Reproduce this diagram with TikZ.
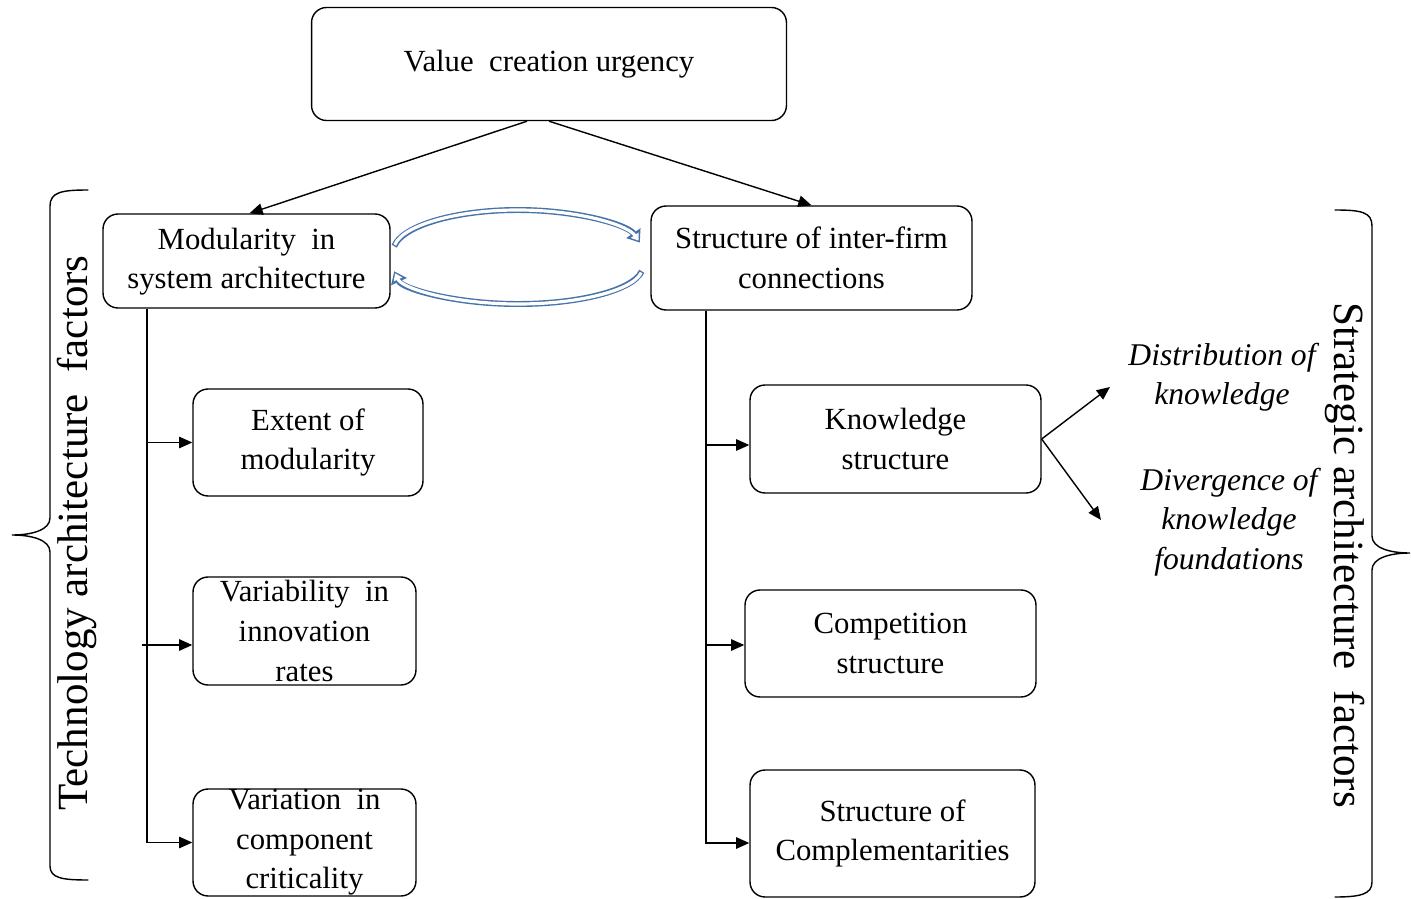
\documentclass[tikz,border=0pt]{standalone}
\usepackage{fontspec}
\setmainfont{Liberation Serif}
\usetikzlibrary{arrows.meta,calc}
\definecolor{cycblue}{RGB}{70,115,170}
\begin{document}
\begin{tikzpicture}[x=0.02cm,y=0.02cm,
 box/.style={draw, rounded corners=0.3cm, line width=0.8pt, inner sep=0pt, align=center, font=\fontsize{17.5}{22.5}\selectfont},
 arr/.style={line width=0.8pt, -{Triangle[length=7.5pt,width=6.5pt]}},
 side/.style={inner sep=0pt, font=\fontsize{24.5}{28}\selectfont},
 ital/.style={align=center, inner sep=0pt, font=\itshape\fontsize{18}{22.5}\selectfont},
 bracepath/.style={line width=0.8pt, line cap=round},
 cycout/.style={cycblue, line width=3.4pt, -{Triangle[length=6.5pt,width=9.5pt]}},
 cycin/.style={white, line width=1.8pt, shorten <=0.8pt, shorten >=1.3pt, -{Triangle[length=3.8pt,width=5.2pt]}}]
\useasboundingbox (0,0) rectangle (1411,-899);

% boxes
\node[box, minimum width=9.5cm, minimum height=2.26cm] (top) at (549,-64) {Value~ creation urgency};
\node[box, minimum width=5.74cm, minimum height=1.88cm] (mod) at (246.5,-261) {\raisebox{-3pt}{\strut}Modularity~ in\\system architecture};
\node[box, minimum width=6.42cm, minimum height=2.08cm] (sif) at (811.5,-258) {Structure of inter-firm\\connections};
\node[box, minimum width=4.6cm, minimum height=2.14cm] (ext) at (308,-442.5) {Extent of\\modularity};
\node[box, minimum width=4.46cm, minimum height=2.16cm] (vin) at (304.5,-631) {Variability~ in\\innovation\\rates};
\node[box, minimum width=4.46cm, minimum height=2.14cm] (vcc) at (304.5,-842.5) {Variation~ in\\component\\criticality};
\node[box, minimum width=5.82cm, minimum height=2.16cm] (ks) at (895.5,-439) {Knowledge\\structure};
\node[box, minimum width=5.82cm, minimum height=2.14cm] (cs) at (890.5,-643.5) {Competition\\structure};
\node[box, minimum width=5.7cm, minimum height=2.54cm] (sc) at (892.5,-833.5) {Structure of\\Complementarities};

% top arrows
\draw[arr] ($(top.south)+(-22,0)$) -- ($(mod.north)+(3,0)$);
\draw[arr] (top.south) -- (sif.north);

% left tree
\coordinate (L) at (147,0);
\draw[arr] (mod.south -| L) |- (vcc.west);
\draw[arr] (L |- ext.west) -- (ext.west);
\draw[arr] ($(L |- vin.west)+(-5,-14)$) -- ($(vin.west)+(0,-14)$);

% right tree
\coordinate (R) at (706,0);
\draw[arr] (sif.south -| R) |- ($(sc.west)+(0,-9.5)$);
\draw[arr] ($(R |- ks.west)+(0,-6)$) -- ($(ks.west)+(0,-6)$);
\draw[arr] ($(R |- cs.west)+(0,-1.5)$) -- ($(cs.west)+(0,-1.5)$);

% knowledge branches
\coordinate (d1) at (1110,-387);
\coordinate (d2) at (1101,-520);
\draw[arr] (ks.east) -- (d1);
\draw[arr] (ks.east) -- (d2);
\node[ital] (dist) at (1222,-377) {Distribution of\\knowledge};
\node[ital] (dive) at (1229,-522) {Divergence of\\knowledge\\foundations};

% cycle arrows
\coordinate (cu) at (518,-252);
\coordinate (cl) at (518,-266);
\draw[cycout] ($(cu)+(172:125 and 42)$) arc[start angle=172, end angle=13, x radius=125, y radius=42];
\draw[cycin] ($(cu)+(172:125 and 42)$) arc[start angle=172, end angle=13, x radius=125, y radius=42];
\draw[cycout] ($(cl)+(-8:125 and 38)$) arc[start angle=-8, end angle=-172, x radius=125, y radius=38];
\draw[cycin] ($(cl)+(-8:125 and 38)$) arc[start angle=-8, end angle=-172, x radius=125, y radius=38];

% braces
\draw[bracepath] (88,-190) .. controls (62,-190) and (50,-192) .. (50,-206) -- (50,-518) .. controls (50,-530) and (32,-535) .. (12,-535) .. controls (32,-535) and (50,-540) .. (50,-552) -- (50,-866) .. controls (50,-878) and (62,-880) .. (88,-880);
\draw[bracepath] (1335,-210) .. controls (1361,-210) and (1372,-212) .. (1372,-226) -- (1372,-536) .. controls (1372,-548) and (1390,-553) .. (1410,-553) .. controls (1390,-553) and (1372,-558) .. (1372,-570) -- (1372,-882) .. controls (1372,-894) and (1361,-897) .. (1335,-897);

% side labels
\node[side, rotate=90] (tech) at (77,-533) {Technology architecture~ factors};
\node[side, rotate=-90] (strat) at (1345,-555) {Strategic architecture~ factors};
\end{tikzpicture}
\end{document}
